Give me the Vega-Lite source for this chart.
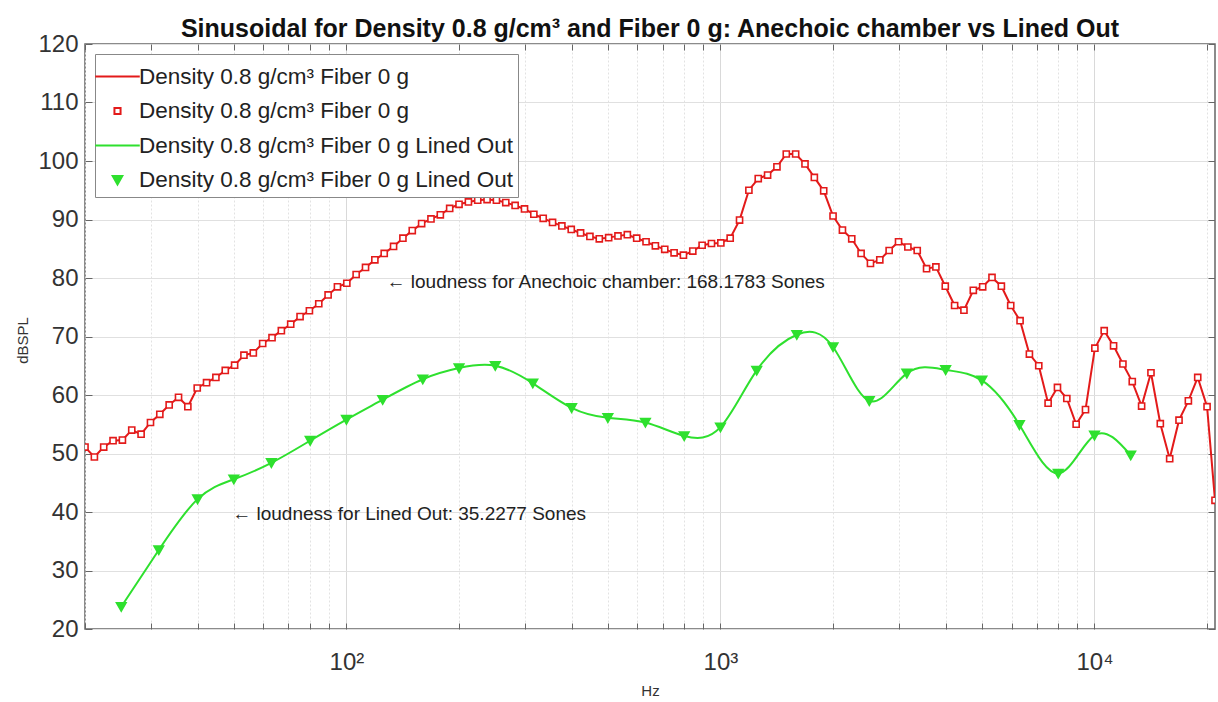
{
  "$schema": "https://vega.github.io/schema/vega-lite/v6.json",
  "width": 1130,
  "height": 585,
  "autosize": {"type": "none"},
  "padding": {"left": 85, "top": 44, "right": 3, "bottom": 73},
  "background": "white",
  "title": {
    "text": "Sinusoidal for Density 0.8 g/cm³ and Fiber 0 g: Anechoic chamber vs Lined Out",
    "anchor": "middle",
    "font": "Liberation Sans",
    "fontSize": 25,
    "fontWeight": "bold",
    "color": "#111111",
    "baseline": "alphabetic",
    "offset": 7,
    "dy": 37
  },
  "datasets": {
    "spl": [
      {"f": 20, "db": 51.1, "series": "Anechoic"},
      {"f": 21.19, "db": 49.4, "series": "Anechoic"},
      {"f": 22.44, "db": 51.1, "series": "Anechoic"},
      {"f": 23.77, "db": 52.2, "series": "Anechoic"},
      {"f": 25.18, "db": 52.3, "series": "Anechoic"},
      {"f": 26.67, "db": 54.0, "series": "Anechoic"},
      {"f": 28.25, "db": 53.3, "series": "Anechoic"},
      {"f": 29.93, "db": 55.3, "series": "Anechoic"},
      {"f": 31.70, "db": 56.7, "series": "Anechoic"},
      {"f": 33.58, "db": 58.3, "series": "Anechoic"},
      {"f": 35.57, "db": 59.6, "series": "Anechoic"},
      {"f": 37.67, "db": 58.0, "series": "Anechoic"},
      {"f": 39.91, "db": 61.2, "series": "Anechoic"},
      {"f": 42.27, "db": 62.1, "series": "Anechoic"},
      {"f": 44.77, "db": 63.0, "series": "Anechoic"},
      {"f": 47.43, "db": 64.2, "series": "Anechoic"},
      {"f": 50.24, "db": 65.1, "series": "Anechoic"},
      {"f": 53.21, "db": 66.8, "series": "Anechoic"},
      {"f": 56.37, "db": 67.2, "series": "Anechoic"},
      {"f": 59.71, "db": 68.8, "series": "Anechoic"},
      {"f": 63.25, "db": 69.8, "series": "Anechoic"},
      {"f": 66.99, "db": 71.0, "series": "Anechoic"},
      {"f": 70.96, "db": 72.1, "series": "Anechoic"},
      {"f": 75.17, "db": 73.4, "series": "Anechoic"},
      {"f": 79.62, "db": 74.4, "series": "Anechoic"},
      {"f": 84.34, "db": 75.6, "series": "Anechoic"},
      {"f": 89.33, "db": 77.1, "series": "Anechoic"},
      {"f": 94.62, "db": 78.5, "series": "Anechoic"},
      {"f": 100.24, "db": 79.1, "series": "Anechoic"},
      {"f": 106.17, "db": 80.6, "series": "Anechoic"},
      {"f": 112.47, "db": 81.8, "series": "Anechoic"},
      {"f": 119.13, "db": 83.1, "series": "Anechoic"},
      {"f": 126.19, "db": 84.2, "series": "Anechoic"},
      {"f": 133.66, "db": 85.4, "series": "Anechoic"},
      {"f": 141.59, "db": 86.8, "series": "Anechoic"},
      {"f": 149.97, "db": 88.1, "series": "Anechoic"},
      {"f": 158.87, "db": 89.3, "series": "Anechoic"},
      {"f": 168.28, "db": 90.1, "series": "Anechoic"},
      {"f": 178.25, "db": 90.8, "series": "Anechoic"},
      {"f": 188.81, "db": 91.9, "series": "Anechoic"},
      {"f": 200, "db": 92.6, "series": "Anechoic"},
      {"f": 211.9, "db": 93.0, "series": "Anechoic"},
      {"f": 224.4, "db": 93.3, "series": "Anechoic"},
      {"f": 237.7, "db": 93.4, "series": "Anechoic"},
      {"f": 251.8, "db": 93.3, "series": "Anechoic"},
      {"f": 266.7, "db": 92.9, "series": "Anechoic"},
      {"f": 282.5, "db": 92.4, "series": "Anechoic"},
      {"f": 299.3, "db": 91.8, "series": "Anechoic"},
      {"f": 317.0, "db": 90.9, "series": "Anechoic"},
      {"f": 335.8, "db": 90.2, "series": "Anechoic"},
      {"f": 355.7, "db": 89.5, "series": "Anechoic"},
      {"f": 376.7, "db": 88.9, "series": "Anechoic"},
      {"f": 399.1, "db": 88.3, "series": "Anechoic"},
      {"f": 422.7, "db": 87.7, "series": "Anechoic"},
      {"f": 447.7, "db": 87.1, "series": "Anechoic"},
      {"f": 474.3, "db": 86.7, "series": "Anechoic"},
      {"f": 502.4, "db": 86.9, "series": "Anechoic"},
      {"f": 532.1, "db": 87.2, "series": "Anechoic"},
      {"f": 563.7, "db": 87.4, "series": "Anechoic"},
      {"f": 597.1, "db": 86.8, "series": "Anechoic"},
      {"f": 632.5, "db": 86.2, "series": "Anechoic"},
      {"f": 669.9, "db": 85.5, "series": "Anechoic"},
      {"f": 709.6, "db": 84.9, "series": "Anechoic"},
      {"f": 751.7, "db": 84.3, "series": "Anechoic"},
      {"f": 796.2, "db": 83.9, "series": "Anechoic"},
      {"f": 843.4, "db": 84.6, "series": "Anechoic"},
      {"f": 893.3, "db": 85.6, "series": "Anechoic"},
      {"f": 946.2, "db": 85.9, "series": "Anechoic"},
      {"f": 1002.4, "db": 86.0, "series": "Anechoic"},
      {"f": 1061.7, "db": 86.8, "series": "Anechoic"},
      {"f": 1124.7, "db": 89.9, "series": "Anechoic"},
      {"f": 1191.3, "db": 95.0, "series": "Anechoic"},
      {"f": 1261.9, "db": 97.0, "series": "Anechoic"},
      {"f": 1336.6, "db": 97.6, "series": "Anechoic"},
      {"f": 1415.9, "db": 99.0, "series": "Anechoic"},
      {"f": 1499.7, "db": 101.2, "series": "Anechoic"},
      {"f": 1588.7, "db": 101.2, "series": "Anechoic"},
      {"f": 1682.8, "db": 99.5, "series": "Anechoic"},
      {"f": 1782.5, "db": 97.2, "series": "Anechoic"},
      {"f": 1888.1, "db": 94.9, "series": "Anechoic"},
      {"f": 2000, "db": 90.6, "series": "Anechoic"},
      {"f": 2119, "db": 88.2, "series": "Anechoic"},
      {"f": 2244, "db": 86.7, "series": "Anechoic"},
      {"f": 2377, "db": 84.2, "series": "Anechoic"},
      {"f": 2518, "db": 82.5, "series": "Anechoic"},
      {"f": 2667, "db": 83.1, "series": "Anechoic"},
      {"f": 2825, "db": 84.7, "series": "Anechoic"},
      {"f": 2993, "db": 86.2, "series": "Anechoic"},
      {"f": 3170, "db": 85.3, "series": "Anechoic"},
      {"f": 3358, "db": 84.7, "series": "Anechoic"},
      {"f": 3557, "db": 81.6, "series": "Anechoic"},
      {"f": 3767, "db": 81.9, "series": "Anechoic"},
      {"f": 3991, "db": 78.6, "series": "Anechoic"},
      {"f": 4227, "db": 75.3, "series": "Anechoic"},
      {"f": 4477, "db": 74.5, "series": "Anechoic"},
      {"f": 4743, "db": 77.9, "series": "Anechoic"},
      {"f": 5024, "db": 78.5, "series": "Anechoic"},
      {"f": 5321, "db": 80.1, "series": "Anechoic"},
      {"f": 5637, "db": 78.6, "series": "Anechoic"},
      {"f": 5971, "db": 75.3, "series": "Anechoic"},
      {"f": 6325, "db": 72.7, "series": "Anechoic"},
      {"f": 6699, "db": 67.0, "series": "Anechoic"},
      {"f": 7096, "db": 65.0, "series": "Anechoic"},
      {"f": 7517, "db": 58.6, "series": "Anechoic"},
      {"f": 7962, "db": 61.3, "series": "Anechoic"},
      {"f": 8434, "db": 59.4, "series": "Anechoic"},
      {"f": 8933, "db": 55.0, "series": "Anechoic"},
      {"f": 9462, "db": 57.5, "series": "Anechoic"},
      {"f": 10024, "db": 68.0, "series": "Anechoic"},
      {"f": 10617, "db": 71.0, "series": "Anechoic"},
      {"f": 11247, "db": 68.4, "series": "Anechoic"},
      {"f": 11913, "db": 65.3, "series": "Anechoic"},
      {"f": 12619, "db": 62.3, "series": "Anechoic"},
      {"f": 13366, "db": 58.1, "series": "Anechoic"},
      {"f": 14159, "db": 63.8, "series": "Anechoic"},
      {"f": 14997, "db": 55.1, "series": "Anechoic"},
      {"f": 15887, "db": 49.1, "series": "Anechoic"},
      {"f": 16828, "db": 55.7, "series": "Anechoic"},
      {"f": 17825, "db": 59.0, "series": "Anechoic"},
      {"f": 18881, "db": 63.0, "series": "Anechoic"},
      {"f": 20000, "db": 58.0, "series": "Anechoic"},
      {"f": 21000, "db": 42.0, "series": "Anechoic"},
      {"f": 25, "db": 23.8, "series": "Lined Out"},
      {"f": 31.5, "db": 33.5, "series": "Lined Out"},
      {"f": 40, "db": 42.2, "series": "Lined Out"},
      {"f": 50, "db": 45.6, "series": "Lined Out"},
      {"f": 63, "db": 48.4, "series": "Lined Out"},
      {"f": 80, "db": 52.2, "series": "Lined Out"},
      {"f": 100, "db": 55.8, "series": "Lined Out"},
      {"f": 125, "db": 59.2, "series": "Lined Out"},
      {"f": 160, "db": 62.7, "series": "Lined Out"},
      {"f": 200, "db": 64.6, "series": "Lined Out"},
      {"f": 250, "db": 65.0, "series": "Lined Out"},
      {"f": 315, "db": 62.0, "series": "Lined Out"},
      {"f": 400, "db": 57.8, "series": "Lined Out"},
      {"f": 500, "db": 56.1, "series": "Lined Out"},
      {"f": 630, "db": 55.3, "series": "Lined Out"},
      {"f": 800, "db": 53.0, "series": "Lined Out"},
      {"f": 1000, "db": 54.5, "series": "Lined Out"},
      {"f": 1250, "db": 64.2, "series": "Lined Out"},
      {"f": 1600, "db": 70.3, "series": "Lined Out"},
      {"f": 2000, "db": 68.2, "series": "Lined Out"},
      {"f": 2500, "db": 59.0, "series": "Lined Out"},
      {"f": 3150, "db": 63.7, "series": "Lined Out"},
      {"f": 4000, "db": 64.3, "series": "Lined Out"},
      {"f": 5000, "db": 62.5, "series": "Lined Out"},
      {"f": 6300, "db": 54.9, "series": "Lined Out"},
      {"f": 8000, "db": 46.6, "series": "Lined Out"},
      {"f": 10000, "db": 53.1, "series": "Lined Out"},
      {"f": 12500, "db": 49.7, "series": "Lined Out"}
    ],
    "notes": [
      {"f": 128, "db": 79.3, "label": "← loudness for Anechoic chamber: 168.1783 Sones"},
      {"f": 49.5, "db": 39.6, "label": "← loudness for Lined Out: 35.2277 Sones"}
    ]
  },
  "layer": [
    {
      "data": {"name": "spl"},
      "transform": [{"filter": "datum.series === 'Anechoic'"}],
      "mark": {"type": "line", "color": "#e31a1a", "strokeWidth": 2, "interpolate": "linear", "clip": true},
      "encoding": {
        "x": {
          "field": "f", "type": "quantitative",
          "scale": {"type": "log", "domain": [20, 21000], "nice": false},
          "axis": {
            "orient": "bottom",
            "values": [20, 30, 40, 50, 60, 70, 80, 90, 100, 200, 300, 400, 500, 600, 700, 800, 900, 1000, 2000, 3000, 4000, 5000, 6000, 7000, 8000, 9000, 10000, 20000],
            "labelExpr": "datum.value == 100 ? '10²' : datum.value == 1000 ? '10³' : datum.value == 10000 ? '10⁴' : ''",
            "labelFont": "Liberation Sans", "labelFontSize": 24, "labelColor": "#333333",
            "labelPadding": 27, "labelOverlap": false, "labelFlush": false, "labelBound": false,
            "tickSize": -6, "tickColor": "#666666", "tickWidth": 1,
            "domain": false,
            "grid": true,
            "gridColor": {"condition": {"test": "datum.value == 100 || datum.value == 1000 || datum.value == 10000", "value": "#d9d9d9"}, "value": "#e2e2e2"},
            "gridDash": {"condition": {"test": "datum.value == 100 || datum.value == 1000 || datum.value == 10000", "value": []}, "value": [2, 2]},
            "title": "Hz", "titleFont": "Liberation Sans", "titleFontSize": 15, "titleFontWeight": "normal", "titleColor": "#333333",
            "titleY": 61, "titleBaseline": "middle"
          }
        },
        "y": {
          "field": "db", "type": "quantitative",
          "scale": {"domain": [20, 120], "nice": false, "zero": false},
          "axis": {
            "orient": "left",
            "values": [20, 30, 40, 50, 60, 70, 80, 90, 100, 110, 120],
            "labelFont": "Liberation Sans", "labelFontSize": 24, "labelColor": "#333333",
            "labelPadding": 14,
            "tickSize": -7, "tickColor": "#666666",
            "domain": false,
            "grid": true, "gridColor": "#e0e0e0",
            "title": "dBSPL", "titleFont": "Liberation Sans", "titleFontSize": 15, "titleFontWeight": "normal", "titleColor": "#333333",
            "titleX": -63, "titleY": 296, "titleAngle": -90, "titleAlign": "center", "titleBaseline": "middle"
          }
        }
      }
    },
    {
      "data": {"name": "spl"},
      "transform": [{"filter": "datum.series === 'Lined Out'"}],
      "mark": {"type": "line", "color": "#2ee02e", "strokeWidth": 2, "interpolate": "natural", "clip": true},
      "encoding": {
        "x": {
          "field": "f", "type": "quantitative",
          "axis": {
            "orient": "top",
            "values": [20, 30, 40, 50, 60, 70, 80, 90, 100, 200, 300, 400, 500, 600, 700, 800, 900, 1000, 2000, 3000, 4000, 5000, 6000, 7000, 8000, 9000, 10000, 20000],
            "labels": false, "grid": false, "domain": false,
            "tickSize": -6, "tickColor": "#666666", "title": null
          }
        },
        "y": {
          "field": "db", "type": "quantitative",
          "axis": {
            "orient": "right",
            "values": [20, 30, 40, 50, 60, 70, 80, 90, 100, 110, 120],
            "labels": false, "grid": false, "domain": false,
            "tickSize": -7, "tickColor": "#666666", "title": null
          }
        }
      }
    },
    {
      "data": {"name": "spl"},
      "mark": {"type": "point", "size": 1089, "strokeWidth": 1.6, "opacity": 1, "clip": true},
      "encoding": {
        "x": {"field": "f", "type": "quantitative", "axis": null},
        "y": {"field": "db", "type": "quantitative", "axis": null},
        "shape": {
          "field": "series", "type": "nominal", "title": null,
          "scale": {
            "domain": ["Anechoic line", "Anechoic", "Lined line", "Lined Out"],
            "range": ["M-1.35,0H1.35", "M-0.185,-0.185H0.185V0.185H-0.185Z", "M-1.35,0H1.35", "M-0.29,-0.24L0.29,-0.24L0,0.27Z"]
          },
          "legend": {"labelExpr": "indexof(datum.label, 'Lined') >= 0 ? 'Density 0.8 g/cm³ Fiber 0 g Lined Out' : 'Density 0.8 g/cm³ Fiber 0 g'"}
        },
        "stroke": {
          "field": "series", "type": "nominal", "title": null,
          "scale": {
            "domain": ["Anechoic line", "Anechoic", "Lined line", "Lined Out"],
            "range": ["#e31a1a", "#e31a1a", "#2ee02e", "#2ee02e"]
          },
          "legend": {"labelExpr": "indexof(datum.label, 'Lined') >= 0 ? 'Density 0.8 g/cm³ Fiber 0 g Lined Out' : 'Density 0.8 g/cm³ Fiber 0 g'"}
        },
        "fill": {
          "field": "series", "type": "nominal", "title": null,
          "scale": {
            "domain": ["Anechoic line", "Anechoic", "Lined line", "Lined Out"],
            "range": ["transparent", "#ffffff", "transparent", "#2ee02e"]
          },
          "legend": {"labelExpr": "indexof(datum.label, 'Lined') >= 0 ? 'Density 0.8 g/cm³ Fiber 0 g Lined Out' : 'Density 0.8 g/cm³ Fiber 0 g'"}
        }
      }
    },
    {
      "data": {"name": "notes"},
      "mark": {"type": "text", "align": "left", "baseline": "middle", "font": "Liberation Sans", "fontSize": 19, "color": "#222222"},
      "encoding": {
        "x": {"field": "f", "type": "quantitative", "axis": null},
        "y": {"field": "db", "type": "quantitative", "axis": null},
        "text": {"field": "label", "type": "nominal"}
      }
    }
  ],
  "resolve": {"axis": {"x": "independent", "y": "independent"}},
  "config": {
    "view": {"stroke": "#666666", "strokeWidth": 1.5},
    "legend": {
      "orient": "top-left",
      "offset": 10,
      "padding": 5,
      "strokeColor": "#888888",
      "fillColor": "#ffffff",
      "labelFont": "Liberation Sans",
      "labelFontSize": 22.5,
      "labelColor": "#222222",
      "labelLimit": 600,
      "labelOffset": 4,
      "symbolSize": 1089,
      "symbolStrokeWidth": 2,
      "symbolOpacity": 1,
      "rowPadding": 5.5
    }
  }
}
